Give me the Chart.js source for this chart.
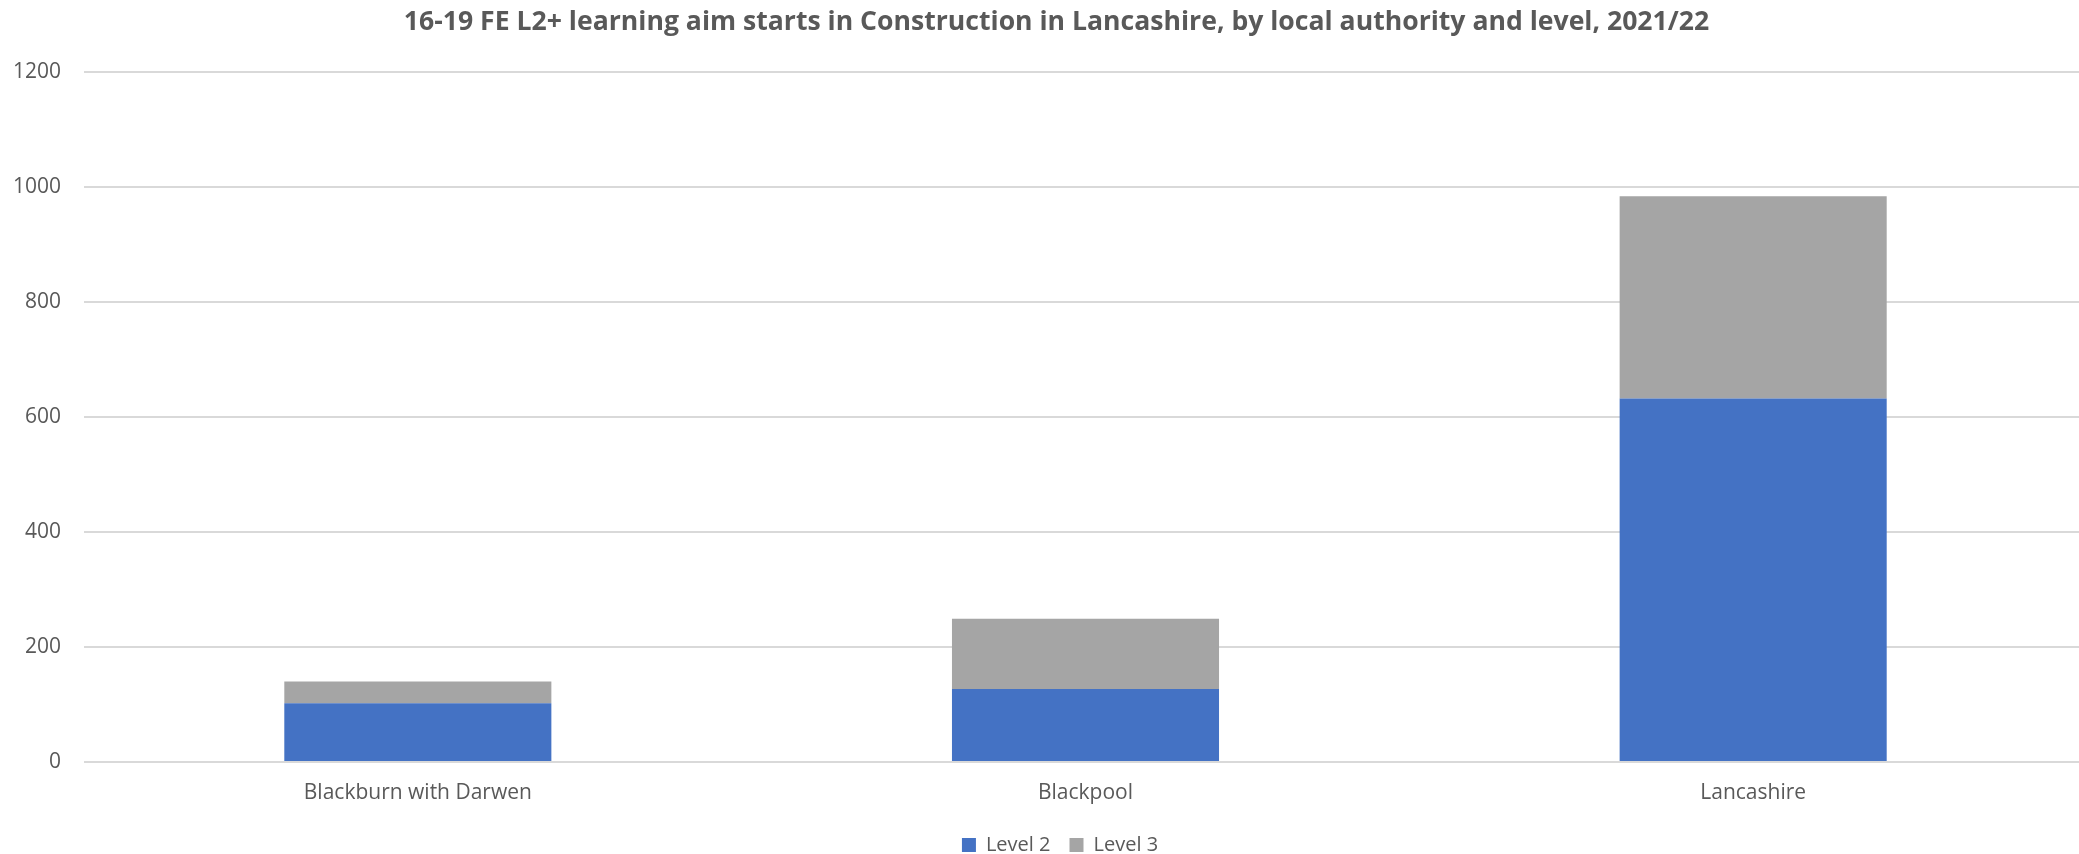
<!DOCTYPE html>
<html>
<head>
<meta charset="utf-8">
<script src="https://cdn.jsdelivr.net/npm/chart.js@4/dist/chart.umd.min.js"></script>
<style>
  html, body { margin: 0; padding: 0; background: #ffffff; overflow: hidden; }
  #wrap { position: relative; width: 2087px; height: 865px; }
</style>
</head>
<body>
<div id="wrap"><canvas id="chart"></canvas></div>
<script>
// Local authorities in Lancashire
const categories = ['Blackburn with Darwen', 'Blackpool', 'Lancashire'];

// Learning aim starts by level
const level2 = [102, 127, 632];
const level3 = [38, 122, 352];

// Value axis ticks
const yTicks = [0, 200, 400, 600, 800, 1000, 1200];

const chartTitle = '16-19 FE L2+ learning aim starts in Construction in Lancashire, by local authority and level, 2021/22';

const textColor = '#595959';
const gridColor = '#d9d9d9';
const baseFont = "'Open Sans', 'Liberation Sans', sans-serif";

// Nudge the centred title and legend slightly to the right of the canvas centre
const centreNudge = {
  id: 'centreNudge',
  afterLayout(chart) {
    if (chart.titleBlock) { chart.titleBlock.left += 26; }
    if (chart.legend) { chart.legend.left += 33; }
  }
};

new Chart(document.getElementById('chart'), {
  type: 'bar',
  plugins: [centreNudge],
  data: {
    labels: categories,
    datasets: [
      { label: 'Level 2', data: level2, backgroundColor: '#4472C4', borderWidth: 0 },
      { label: 'Level 3', data: level3, backgroundColor: '#A5A5A5', borderWidth: 0 }
    ]
  },
  options: {
    responsive: true,
    maintainAspectRatio: false,
    animation: false,
    devicePixelRatio: 1,
    layout: { padding: { left: 0, right: 0, top: 6, bottom: 0 } },
    datasets: { bar: { categoryPercentage: 1.0, barPercentage: 0.4 } },
    plugins: {
      title: {
        display: true,
        text: chartTitle,
        color: textColor,
        font: { family: baseFont, size: 26.6, weight: 'bold' },
        padding: { top: 0, bottom: 34 }
      },
      legend: {
        position: 'bottom',
        labels: {
          color: textColor,
          font: { family: baseFont, size: 20 },
          boxWidth: 14,
          boxHeight: 14,
          padding: 19
        }
      },
      tooltip: { enabled: false }
    },
    scales: {
      x: {
        stacked: true,
        afterFit: (scale) => { scale.height = 54; },
        grid: { display: false },
        border: { display: false },
        ticks: {
          color: textColor,
          font: { family: baseFont, size: 21 },
          padding: 10,
          maxRotation: 0
        }
      },
      y: {
        stacked: true,
        min: 0,
        max: 1200,
        afterFit: (scale) => { scale.width = 84; },
        afterBuildTicks: (scale) => { scale.ticks = yTicks.map(v => ({ value: v })); },
        grid: { color: gridColor, lineWidth: 2, drawTicks: false },
        border: { display: false },
        ticks: {
          color: textColor,
          font: { family: baseFont, size: 21 },
          padding: 23,
          callback: (v) => String(v)
        }
      }
    }
  }
});
</script>
</body>
</html>
